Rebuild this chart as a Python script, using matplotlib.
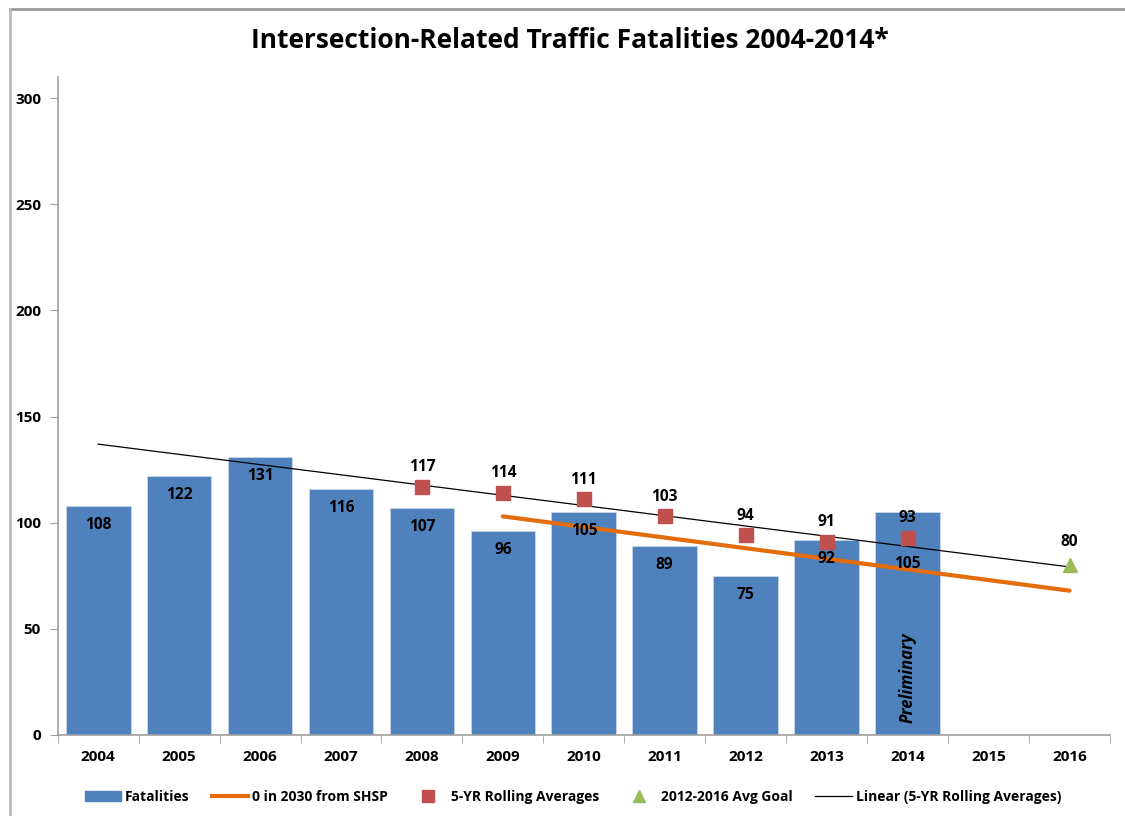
import matplotlib
matplotlib.use("Agg")
import matplotlib.pyplot as plt
import numpy as np
from matplotlib.lines import Line2D
from matplotlib.patches import Patch

plt.rcParams['font.family'] = ['Open Sans', 'DejaVu Sans']

years = ['2004', '2005', '2006', '2007', '2008', '2009', '2010', '2011', '2012', '2013', '2014', '2015', '2016']
fatalities = [108, 122, 131, 116, 107, 96, 105, 89, 75, 92, 105]
rolling_years = ['2008', '2009', '2010', '2011', '2012', '2013', '2014']
rolling_avg = [117, 114, 111, 103, 94, 91, 93]
shsp_years = ['2009', '2010', '2011', '2012', '2013', '2014', '2015', '2016']
shsp_vals = [103, 98, 93, 88, 83, 78, 73, 68]
goal_year = ['2016']
goal_val = [80]

bar_color = '#4F81BD'
orange = '#E46C0A'
red = '#C0504D'
green = '#9BBB59'

fig = plt.figure(figsize=(11.25, 8.16), dpi=100)
ax = fig.add_axes([57.7/1125, 1-735/816, (1110-57.7)/1125, (735-77)/816])

idx = {y: i for i, y in enumerate(years)}
xb = np.arange(len(fatalities))
ax.bar(xb, fatalities, width=0.8, color=bar_color, edgecolor='#C9D7EA', linewidth=0.6, zorder=2)
for x, v in zip(xb, fatalities):
    drop = 20.5 if years[x] == '2014' else 5.2
    ax.text(x, v - drop, str(v), ha='center', va='top', fontsize=11.2, fontweight='bold', color='black', zorder=6)

xs = np.array([idx[y] for y in shsp_years])
ax.plot(xs, shsp_vals, color=orange, linewidth=3, zorder=4, solid_capstyle='round')

xr = np.array([idx[y] for y in rolling_years])
ax.plot(xr, rolling_avg, linestyle='none', marker='s', markersize=9.5, color=red, zorder=5)
for x, v in zip(xr, rolling_avg):
    ax.text(x, v + 5.5, str(v), ha='center', va='bottom', fontsize=11.2, fontweight='bold', zorder=6)

xg = np.array([idx[y] for y in goal_year])
ax.plot(xg, goal_val, linestyle='none', marker='^', markersize=9.5, color=green, zorder=5)
for x, v in zip(xg, goal_val):
    ax.text(x, v + 7, str(v), ha='center', va='bottom', fontsize=11.2, fontweight='bold', zorder=6)

# Linear trendline of rolling averages, extended over the whole range
coef = np.polyfit(xr, rolling_avg, 1)
xt = np.array([0, len(years) - 1])
ax.plot(xt, np.polyval(coef, xt), color='black', linewidth=0.9, zorder=4)

ax.text(idx['2014'], 27, 'Preliminary', rotation=90, ha='center', va='center',
        fontsize=12, fontweight='bold', fontstyle='italic', zorder=6)

ax.set_xlim(-0.5, len(years) - 0.5)
ax.set_ylim(0, 310)
ax.set_yticks([0, 50, 100, 150, 200, 250, 300])
ax.set_xticks(np.arange(len(years)))
ax.set_xticklabels(years)
ax.set_xticks(np.arange(len(years) + 1) - 0.5, minor=True)
ax.tick_params(axis='x', which='major', length=0, pad=11, labelsize=11)
ax.tick_params(axis='x', which='minor', length=6, color='#A0A0A0', direction='out')
ax.tick_params(axis='y', length=6, color='#A0A0A0', direction='out', labelsize=11, pad=6)
for lab in ax.get_xticklabels() + ax.get_yticklabels():
    lab.set_fontweight('bold')
for s in ['top', 'right']:
    ax.spines[s].set_visible(False)
for s in ['left', 'bottom']:
    ax.spines[s].set_color('#A0A0A0')
    ax.spines[s].set_linewidth(1.2)

fig.text(570/1125, 1-40/816, 'Intersection-Related Traffic Fatalities 2004-2014*', ha='center', va='center',
         fontsize=19, fontweight='bold')

handles = [
    Patch(facecolor=bar_color, edgecolor=bar_color),
    Line2D([0], [0], color=orange, linewidth=3),
    Line2D([0], [0], linestyle='none', marker='s', markersize=8, color=red),
    Line2D([0], [0], linestyle='none', marker='^', markersize=8, color=green),
    Line2D([0], [0], color='black', linewidth=0.9),
]
labels = ['Fatalities', '0 in 2030 from SHSP', '5-YR Rolling Averages', '2012-2016 Avg Goal', 'Linear (5-YR Rolling Averages)']
fig.legend(handles, labels, loc='center', bbox_to_anchor=(573/1125, 1-797/816), ncol=5, frameon=False,
           prop={'weight': 'bold', 'size': 10}, handlelength=2.6, handletextpad=0.3, columnspacing=1.6)

# chart border
fig.add_artist(Line2D([10/1125, 1], [1-8.5/816, 1-8.5/816], color='#999999', linewidth=2, transform=fig.transFigure))
fig.add_artist(Line2D([10/1125, 10/1125], [0, 1-8.5/816], color='#BBBBBB', linewidth=2, transform=fig.transFigure))

fig.savefig('out.png', dpi=100)
